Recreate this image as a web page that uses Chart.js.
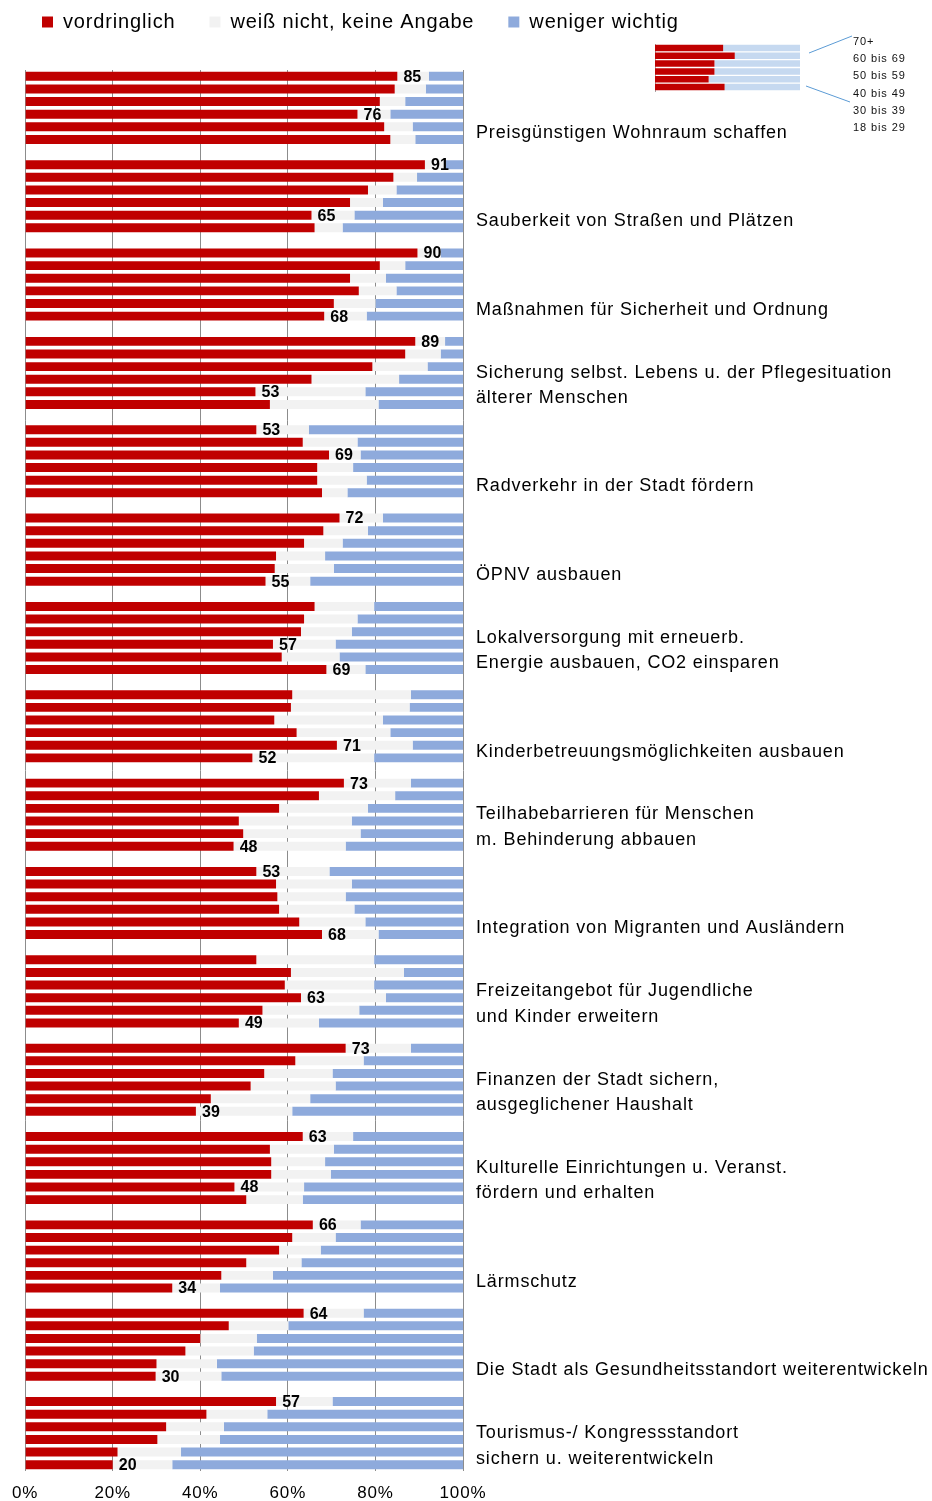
<!DOCTYPE html>
<html lang="de">
<head>
<meta charset="utf-8">
<script src="https://cdn.jsdelivr.net/npm/chart.js@4.4.1/dist/chart.umd.min.js"></script>
<style>
  html, body { margin: 0; padding: 0; background: #fff; overflow: hidden; }
  #wrap { position: relative; width: 932px; height: 1501px; }
  #haupt { position: absolute; left: 0; top: 0; }
  #legende { position: absolute; left: 640px; top: 30px; }
</style>
</head>
<body>
<div id="wrap">
  <canvas id="haupt" width="932" height="1501"></canvas>
  <canvas id="legende" width="292" height="110"></canvas>
</div>
<script>
const themen = [
  "Preisgünstigen Wohnraum schaffen",
  "Sauberkeit von Straßen und Plätzen",
  "Maßnahmen für Sicherheit und Ordnung",
  ["Sicherung selbst. Lebens u. der Pflegesituation", "älterer Menschen"],
  "Radverkehr in der Stadt fördern",
  "ÖPNV ausbauen",
  ["Lokalversorgung mit erneuerb.", "Energie ausbauen, CO2 einsparen"],
  "Kinderbetreuungsmöglichkeiten ausbauen",
  ["Teilhabebarrieren für Menschen", "m. Behinderung abbauen"],
  "Integration von Migranten und Ausländern",
  ["Freizeitangebot für Jugendliche", "und Kinder erweitern"],
  ["Finanzen der Stadt sichern,", "ausgeglichener Haushalt"],
  ["Kulturelle Einrichtungen u. Veranst.", "fördern und erhalten"],
  "Lärmschutz",
  "Die Stadt als Gesundheitsstandort weiterentwickeln",
  ["Tourismus-/ Kongressstandort", "sichern u. weiterentwickeln"]
];

const altersgruppen = ["70+", "60 bis 69", "50 bis 59", "40 bis 49", "30 bis 39", "18 bis 29"];

// Anteile in % je Thema, Reihenfolge wie altersgruppen
const vordringlich = [
  [85.0, 84.4, 81.0, 75.9, 82.0, 83.4],
  [91.3, 84.1, 78.3, 74.2, 65.4, 66.1],
  [89.6, 81.0, 74.2, 76.2, 70.5, 68.3],
  [89.1, 86.8, 79.3, 65.4, 52.6, 55.9],
  [52.8, 63.4, 69.4, 66.7, 66.7, 67.8],
  [71.8, 68.1, 63.7, 57.3, 57.0, 54.9],
  [66.1, 63.7, 63.0, 56.6, 58.6, 68.8],
  [61.0, 60.7, 56.9, 62.0, 71.2, 51.9],
  [72.8, 67.1, 58.0, 48.8, 49.8, 47.6],
  [52.8, 57.3, 57.6, 58.0, 62.6, 67.8],
  [52.8, 60.7, 59.3, 63.0, 54.2, 48.8],
  [73.2, 61.7, 54.6, 51.5, 42.4, 39.0],
  [63.4, 55.9, 56.2, 56.2, 47.8, 50.5],
  [65.7, 61.0, 58.0, 50.5, 44.8, 33.6],
  [63.6, 46.5, 40.0, 36.6, 30.0, 29.8],
  [57.3, 41.4, 32.2, 30.2, 21.1, 20.0]
];

const weissNicht = [
  [7.2, 7.1, 5.8, 7.5, 6.5, 5.7],
  [4.8, 5.4, 6.5, 7.5, 9.8, 6.4],
  [5.3, 5.8, 8.2, 8.6, 9.5, 9.7],
  [6.8, 8.1, 12.6, 20.0, 25.1, 24.8],
  [12.0, 12.5, 7.2, 8.2, 11.3, 5.8],
  [9.9, 10.2, 8.8, 11.2, 13.5, 10.2],
  [13.6, 12.2, 11.6, 14.3, 13.2, 8.9],
  [27.1, 27.1, 24.8, 21.4, 17.3, 27.8],
  [15.3, 17.4, 20.3, 25.8, 26.8, 25.6],
  [16.7, 17.3, 15.6, 17.2, 15.1, 12.9],
  [26.9, 25.8, 20.4, 19.4, 22.1, 18.3],
  [14.9, 15.6, 15.6, 19.4, 22.7, 22.0],
  [11.5, 14.6, 12.3, 13.6, 15.9, 12.9],
  [10.9, 9.9, 9.5, 12.6, 11.8, 10.9],
  [13.7, 13.6, 12.9, 15.6, 13.8, 15.0],
  [12.9, 13.9, 13.2, 14.3, 14.5, 13.6]
];

const wenigerWichtig = [
  [7.8, 8.5, 13.2, 16.6, 11.5, 10.9],
  [3.9, 10.5, 15.2, 18.3, 24.8, 27.5],
  [5.1, 13.2, 17.6, 15.2, 20.0, 22.0],
  [4.1, 5.1, 8.1, 14.6, 22.3, 19.3],
  [35.2, 24.1, 23.4, 25.1, 22.0, 26.4],
  [18.3, 21.7, 27.5, 31.5, 29.5, 34.9],
  [20.3, 24.1, 25.4, 29.1, 28.2, 22.3],
  [11.9, 12.2, 18.3, 16.6, 11.5, 20.3],
  [11.9, 15.5, 21.7, 25.4, 23.4, 26.8],
  [30.5, 25.4, 26.8, 24.8, 22.3, 19.3],
  [20.3, 13.5, 20.3, 17.6, 23.7, 32.9],
  [11.9, 22.7, 29.8, 29.1, 34.9, 39.0],
  [25.1, 29.5, 31.5, 30.2, 36.3, 36.6],
  [23.4, 29.1, 32.5, 36.9, 43.4, 55.5],
  [22.7, 39.9, 47.1, 47.8, 56.2, 55.2],
  [29.8, 44.7, 54.6, 55.5, 64.4, 66.4]
];

const xTicks = [0, 20, 40, 60, 80, 100];

// kleines Beispiel oben rechts (Legende der Altersgruppen)
const beispielVordringlich = [47, 55, 41, 41, 37, 48];

const SCHRIFT = '"Liberation Sans", Arial, sans-serif';
const ROT = "#c00000";
const GRAU = "#f2f2f2";
const BLAU = "#8eaadc";

// Zeilen mit Leerzeile zwischen den Themen
function zeilen(werte) {
  const out = [];
  werte.forEach((reihe, k) => {
    reihe.forEach(v => out.push(v));
    if (k < werte.length - 1) out.push(null);
  });
  return out;
}

const zeilenLabels = [];
themen.forEach((t, k) => {
  altersgruppen.forEach(a => zeilenLabels.push(a));
  if (k < themen.length - 1) zeilenLabels.push("");
});

const themenPositionen = themen.map((t, k) => k * 7 + (Array.isArray(t) ? 3.5 : 4.5));

// Excel-Text wirkt etwas gesperrt
const sperrung = {
  id: "sperrung",
  beforeUpdate(chart) { chart.ctx.letterSpacing = "0.85px"; },
  beforeDraw(chart) { chart.ctx.letterSpacing = "0.85px"; }
};

const wertBeschriftung = {
  id: "wertBeschriftung",
  afterDatasetsDraw(chart) {
    const ctx = chart.ctx;
    const meta = chart.getDatasetMeta(0);
    ctx.save();
    ctx.letterSpacing = "0px";
    ctx.font = "bold 16px " + SCHRIFT;
    ctx.fillStyle = "#000";
    ctx.textAlign = "center";
    ctx.textBaseline = "middle";
    vordringlich.forEach((reihe, k) => {
      const maxI = reihe.indexOf(Math.max(...reihe));
      const minI = reihe.lastIndexOf(Math.min(...reihe));
      [maxI, minI].forEach(i => {
        const bar = meta.data[k * 7 + i];
        ctx.fillText(String(Math.round(reihe[i])), bar.x + 15, bar.y + 1);
      });
    });
    ctx.restore();
  }
};

const legendeVerschieben = {
  id: "legendeVerschieben",
  afterLayout(chart) {
    chart.legend.top -= 28;
    chart.legend.bottom -= 28;
  }
};

new Chart(document.getElementById("haupt"), {
  type: "bar",
  data: {
    labels: zeilenLabels,
    datasets: [
      { label: "vordringlich", data: zeilen(vordringlich), backgroundColor: ROT },
      { label: "weiß nicht, keine Angabe", data: zeilen(weissNicht), backgroundColor: GRAU },
      { label: "weniger wichtig", data: zeilen(wenigerWichtig), backgroundColor: BLAU }
    ]
  },
  options: {
    indexAxis: "y",
    responsive: false,
    maintainAspectRatio: false,
    animation: false,
    layout: { padding: { top: 6, left: 8, right: 0, bottom: 0 } },
    datasets: {
      bar: { barPercentage: 0.71, categoryPercentage: 1, borderWidth: 0 }
    },
    plugins: {
      tooltip: { enabled: false },
      legend: {
        position: "top",
        align: "start",
        labels: {
          boxWidth: 11,
          boxHeight: 11,
          padding: 34,
          color: "#000",
          font: { family: SCHRIFT, size: 20 }
        }
      }
    },
    scales: {
      x: {
        stacked: true,
        min: 0,
        max: 100,
        afterBuildTicks: scale => { scale.ticks = xTicks.map(v => ({ value: v })); },
        afterFit: scale => { scale.height = 30; },
        ticks: {
          color: "#000",
          padding: 12,
          font: { family: SCHRIFT, size: 17 },
          callback: v => v + "%"
        },
        grid: { color: "#8c8c8c", lineWidth: 1, drawTicks: false },
        border: { display: false }
      },
      y: {
        type: "category",
        stacked: true,
        afterFit: scale => { scale.width = 12; },
        ticks: { display: false },
        grid: { display: false, drawTicks: false },
        border: { display: false }
      },
      y2: {
        type: "linear",
        axis: "y",
        position: "right",
        reverse: true,
        offset: false,
        min: -0.5,
        max: zeilenLabels.length - 0.5,
        afterBuildTicks: scale => { scale.ticks = themenPositionen.map(v => ({ value: v })); },
        afterFit: scale => { scale.width = 469; },
        ticks: {
          autoSkip: false,
          color: "#000",
          padding: 13,
          font: { family: SCHRIFT, size: 18, lineHeight: 1.42 },
          callback: (v, i) => themen[i]
        },
        grid: { display: false, drawTicks: false },
        border: { display: false }
      }
    }
  },
  plugins: [sperrung, wertBeschriftung, legendeVerschieben]
});

// Altersgruppen-Legende: Linien und Beschriftung neben dem Beispielbalken
const altersLegende = {
  id: "altersLegende",
  afterDraw(chart) {
    const { ctx, chartArea: a } = chart;
    ctx.save();
    ctx.strokeStyle = "#5b9bd5";
    ctx.lineWidth = 1;
    ctx.beginPath();
    ctx.moveTo(a.right + 9, a.top + 9);
    ctx.lineTo(a.right + 52, a.top - 8);
    ctx.moveTo(a.right + 6, a.bottom - 5);
    ctx.lineTo(a.right + 50, a.bottom + 11);
    ctx.stroke();
    ctx.letterSpacing = "0.9px";
    ctx.fillStyle = "#111";
    ctx.font = "11px " + SCHRIFT;
    ctx.textAlign = "left";
    ctx.textBaseline = "middle";
    altersgruppen.forEach((t, i) => {
      ctx.fillText(t, a.right + 53, a.top - 2 + i * 17.2);
    });
    ctx.restore();
  }
};

new Chart(document.getElementById("legende"), {
  type: "bar",
  data: {
    labels: altersgruppen,
    datasets: [
      { data: beispielVordringlich, backgroundColor: ROT },
      { data: beispielVordringlich.map(v => 100 - v), backgroundColor: "#c6d9f0" }
    ]
  },
  options: {
    indexAxis: "y",
    responsive: false,
    maintainAspectRatio: false,
    animation: false,
    layout: { padding: { left: 15, top: 14, right: 132, bottom: 49 } },
    datasets: { bar: { barPercentage: 0.82, categoryPercentage: 1, borderWidth: 0 } },
    plugins: { legend: { display: false }, tooltip: { enabled: false } },
    scales: {
      x: { stacked: true, display: false, min: 0, max: 100 },
      y: {
        stacked: true,
        afterFit: scale => { scale.width = 0; },
        ticks: { display: false },
        grid: { display: false, drawTicks: false },
        border: { color: "#a6a6a6" }
      }
    }
  },
  plugins: [altersLegende]
});
</script>
</body>
</html>
